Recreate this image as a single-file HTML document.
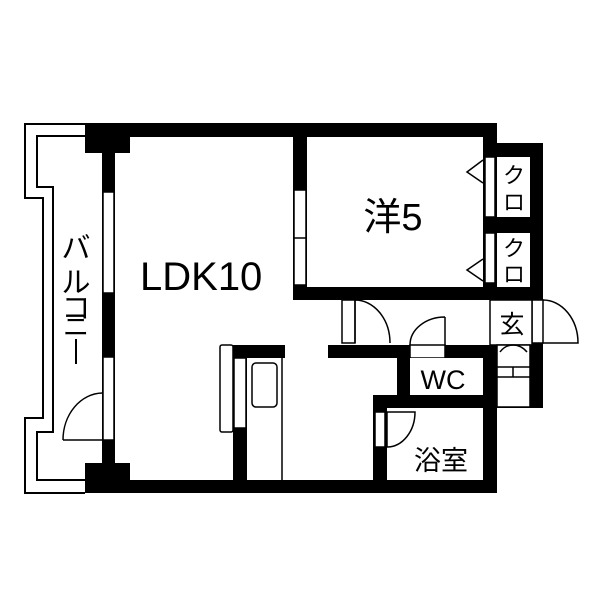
<!DOCTYPE html>
<html><head><meta charset="utf-8"><style>body{margin:0;background:#fff}svg{display:block}</style></head><body>
<svg width="600" height="600" xmlns="http://www.w3.org/2000/svg" font-family="Liberation Sans, Noto Sans CJK JP, sans-serif">
<rect width="600" height="600" fill="#fff"/>
<g fill="none" stroke="#000" stroke-width="2">
<polyline points="85,124 25,124 25,198 43,198 43,418 25,418 25,493 85,493"/>
<polyline points="85,136 37,136 37,187 53,187 53,432 37,432 37,480 85,480"/>
</g>
<g fill="#000">
<rect x="85" y="123" width="412" height="14"/>
<rect x="85" y="480" width="412" height="13"/>
<rect x="85" y="123" width="45" height="30"/>
<rect x="85" y="463" width="45" height="30"/>
<rect x="102" y="123" width="13" height="370"/>
<rect x="293" y="123" width="14" height="177"/>
<rect x="293" y="287" width="250" height="13"/>
<rect x="483" y="123" width="14" height="177"/>
<rect x="483" y="143" width="60" height="14"/>
<rect x="483" y="217" width="60" height="16"/>
<rect x="530" y="143" width="13" height="264"/>
<rect x="328" y="345" width="169" height="13"/>
<rect x="397" y="345" width="13" height="62"/>
<rect x="483" y="345" width="14" height="148"/>
<rect x="373" y="395" width="170" height="13"/>
<rect x="373" y="395" width="14" height="98"/>
<rect x="497" y="345" width="33" height="62"/>
<rect x="233" y="345" width="52" height="13"/>
<rect x="233" y="358" width="14" height="122"/>
</g>
<g fill="#fff" stroke="#000" stroke-width="1.5">
<rect x="103" y="192" width="11" height="101"/>
<rect x="103" y="357" width="11" height="83"/>
<rect x="294" y="190" width="12" height="95"/><line x1="294" y1="238" x2="306" y2="238"/>
<rect x="485" y="157" width="10" height="60"/>
<rect x="485" y="233" width="10" height="50"/>
<rect x="497" y="157" width="33" height="60" stroke="none"/>
<rect x="497" y="233" width="33" height="54" stroke="none"/>
<rect x="342" y="300" width="13" height="43"/>
<rect x="410" y="345" width="35" height="13"/>
<rect x="410" y="358" width="73" height="37" stroke="none"/>
<rect x="375" y="412" width="10" height="35"/>
<rect x="532" y="300" width="11" height="43"/>
<rect x="490" y="300" width="42" height="45"/>
<rect x="497" y="345" width="33" height="62"/>
<line x1="497" y1="367" x2="530" y2="367"/><line x1="497" y1="377" x2="530" y2="377"/><line x1="513" y1="367" x2="513" y2="377"/>
<rect x="234" y="358" width="12" height="70"/>
<rect x="220" y="345" width="13" height="87" rx="2"/>
<rect x="252" y="363" width="25" height="44" rx="4"/>
</g>
<g fill="none" stroke="#000" stroke-width="1.5">
<line x1="282" y1="358" x2="282" y2="480"/>
<path d="M63,440 L102,440 M63,440 A40,47 0 0 1 102,393"/>
<path d="M355,300 L355,343 M355,300 A35,43 0 0 1 390,343"/>
<path d="M445,317 L445,345 M445,317 A35,28 0 0 0 410,345"/>
<path d="M387,412 L387,447 M387,412 L415,412 A28,35 0 0 1 387,447"/>
<path d="M543,300 A35,43 0 0 1 578,343 L543,343"/>
<path d="M500,352 Q505,345 513,345 M513,345 Q521,345 527,352"/>
<polyline points="483,160 467,172 483,183"/>
<polyline points="483,259 467,270 483,281"/>
</g>
<g fill="#000">
<text x="140" y="290" font-size="40">LDK10</text>
<text x="393" y="230" font-size="38" text-anchor="middle">洋5</text>
<text x="443" y="389" font-size="27" text-anchor="middle">WC</text>
<text x="441" y="470" font-size="27" text-anchor="middle">浴室</text>
<text x="512" y="333" font-size="25" text-anchor="middle">玄</text>
<text x="514" y="183" font-size="22" text-anchor="middle">ク</text>
<text x="514" y="210" font-size="22" text-anchor="middle">ロ</text>
<text x="514" y="256" font-size="22" text-anchor="middle">ク</text>
<text x="514" y="282" font-size="22" text-anchor="middle">ロ</text>
<text x="76" y="258" font-size="29" text-anchor="middle">バ</text>
<text x="76" y="292" font-size="29" text-anchor="middle">ル</text>
<text x="76" y="318" font-size="29" text-anchor="middle">コ</text>
<text x="76" y="336" font-size="26" text-anchor="middle">ニ</text>
<rect x="75" y="339" width="2" height="25"/>
</g>
</svg>
</body></html>
